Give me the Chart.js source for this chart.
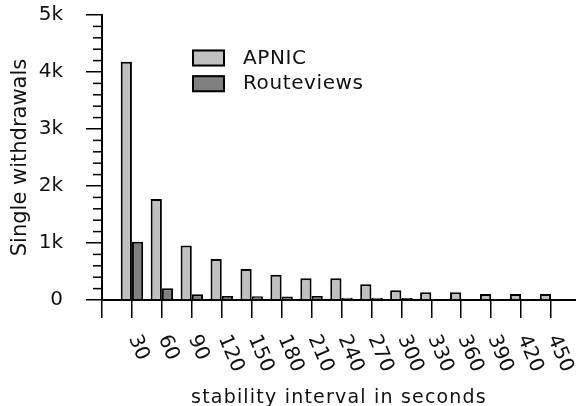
<!DOCTYPE html>
<html>
<head>
<meta charset="utf-8">
<title>Single withdrawals</title>
<script src="https://cdn.jsdelivr.net/npm/chart.js@4"></script>
<style>
  body { margin: 0; background: #fff; }
  #chart { display: block; }
</style>
</head>
<body>
<canvas id="chart" width="576" height="406"></canvas>
<script>
// data
const intervals = [30, 60, 90, 120, 150, 180, 210, 240, 270, 300, 330, 360, 390, 420, 450];
const apnic = [4180, 1770, 955, 720, 545, 445, 380, 380, 275, 170, 135, 135, 105, 105, 105];
const routeviews = [1020, 205, 100, 70, 65, 60, 70, 40, 40, 35, 8, 8, 5, 5, 5];
const xTickLabels = intervals.map(String);
const yTickValues = [0, 1000, 2000, 3000, 4000, 5000];
const yTickLabels = ['0', '1k', '2k', '3k', '4k', '5k'];
const seriesNames = ['APNIC', 'Routeviews'];
const xTitle = 'stability interval in seconds';
const yTitle = 'Single withdrawals';

const FONT = '"DejaVu Sans"';

// minor y ticks, rotated x labels, x title and the legend box
const decor = {
  id: 'decor',
  afterDraw(chart) {
    const ctx = chart.ctx;
    const x = chart.scales.x, y = chart.scales.y;
    ctx.save();

    ctx.strokeStyle = '#000';
    ctx.lineWidth = 1.5;
    for (let v = 0; v <= y.max; v += 200) {
      if (v % 1000 === 0) continue;
      const py = y.getPixelForValue(v);
      ctx.beginPath();
      ctx.moveTo(x.left - 9, py);
      ctx.lineTo(x.left, py);
      ctx.stroke();
    }

    ctx.fillStyle = '#111';
    ctx.font = '20px ' + FONT;
    ctx.textAlign = 'left';
    ctx.textBaseline = 'middle';
    intervals.forEach((v, i) => {
      ctx.save();
      ctx.translate(x.getPixelForValue(v) + 1.5, 336);
      ctx.rotate(67 * Math.PI / 180);
      ctx.fillText(xTickLabels[i], 0, 0);
      ctx.restore();
    });

    ctx.font = '19px ' + FONT;
    ctx.textAlign = 'center';
    ctx.letterSpacing = '1.2px';
    ctx.fillText(xTitle, (x.left + x.right) / 2, 398.5);

    // legend
    ctx.font = '20px ' + FONT;
    ctx.textAlign = 'left';
    ctx.letterSpacing = '0.6px';
    chart.data.datasets.forEach((ds, i) => {
      const by = 49.5 + i * 25.7;
      ctx.fillStyle = ds.backgroundColor;
      ctx.fillRect(192, by, 33, 17);
      ctx.lineWidth = 2;
      ctx.strokeStyle = '#000';
      ctx.strokeRect(193, by + 1, 31, 15);
      ctx.fillStyle = '#111';
      ctx.fillText(ds.label, 243, by + 9);
    });
    ctx.letterSpacing = '0px';
    ctx.restore();
  }
};

new Chart(document.getElementById('chart'), {
  type: 'bar',
  data: {
    datasets: [
      {
        label: seriesNames[0],
        data: intervals.map((v, i) => ({ x: v, y: apnic[i] })),
        backgroundColor: '#c0c0c0'
      },
      {
        label: seriesNames[1],
        data: intervals.map((v, i) => ({ x: v, y: routeviews[i] })),
        backgroundColor: '#808080'
      }
    ]
  },
  options: {
    responsive: false,
    animation: false,
    layout: { autoPadding: false, padding: { top: 15, right: 0, bottom: 0, left: 0 } },
    datasets: {
      bar: {
        borderColor: '#000',
        borderWidth: 2,
        categoryPercentage: 0.75,
        barPercentage: 1.0
      }
    },
    plugins: {
      legend: { display: false },
      title: { display: false },
      tooltip: { enabled: false }
    },
    scales: {
      x: {
        type: 'linear',
        min: 0,
        max: 475,
        offset: false,
        grid: { offset: false, drawOnChartArea: false, tickLength: 18, color: '#000', lineWidth: 1.5 },
        border: { color: '#000', width: 2 },
        ticks: { display: false, stepSize: 30, includeBounds: false, autoSkip: false, maxTicksLimit: 100 },
        afterFit(s) { s.height = 106; s.paddingLeft = 0; s.paddingRight = 0; }
      },
      y: {
        min: 0,
        max: 5000,
        grid: { drawOnChartArea: false, tickLength: 16, color: '#000', lineWidth: 1.5 },
        border: { color: '#000', width: 2 },
        ticks: {
          stepSize: 1000,
          padding: 23,
          color: '#111',
          font: { family: 'DejaVu Sans', size: 20 },
          callback: (v) => yTickLabels[yTickValues.indexOf(v)]
        },
        title: {
          display: true,
          text: yTitle,
          color: '#111',
          font: { family: 'DejaVu Sans', size: 21 },
          padding: { top: 8, bottom: 0 }
        },
        afterFit(s) { s.width = 102; s.paddingTop = 0; s.paddingBottom = 0; }
      }
    }
  },
  plugins: [decor]
});
</script>
</body>
</html>
